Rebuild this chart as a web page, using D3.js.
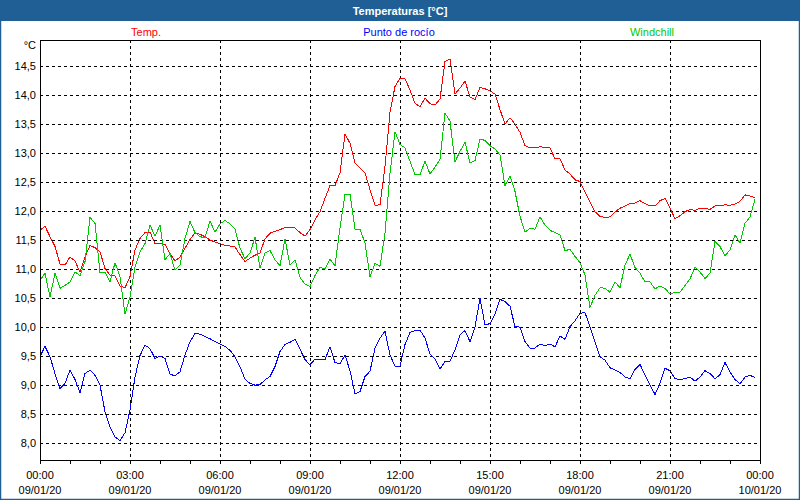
<!DOCTYPE html>
<html>
<head>
<meta charset="utf-8">
<script src="https://cdn.jsdelivr.net/npm/d3@7"></script>
<style>
    html, body { margin: 0; padding: 0; background: #fff; }
    svg { display: block; font-family: "Liberation Sans", Arial, sans-serif; }
    .grid line { stroke: #000; stroke-dasharray: 3,3; shape-rendering: crispEdges; }
    .frame { fill: none; stroke: #000; shape-rendering: crispEdges; }
    .serie { fill: none; stroke-width: 1; shape-rendering: crispEdges; }
</style>
</head>
<body>
<div id="chart"></div>
<script>
    'use strict';

    // 10 minute samples, 09/01/20 00:00 .. 23:50
    var startTime = Date.UTC(2020, 0, 9, 0, 0);
    var endTime = Date.UTC(2020, 0, 10, 0, 0);
    var stepMinutes = 10;

    var temp = [
        11.67, 11.74, 11.56, 11.39, 11.09, 11.07, 11.21, 11.14, 10.95, 11.21, 11.41, 11.37,
        11.30, 11.01, 10.90, 10.88, 10.71, 10.68, 10.87, 11.33, 11.53, 11.63, 11.64, 11.44,
        11.44, 11.43, 11.27, 11.14, 11.21, 11.36, 11.51, 11.63, 11.60, 11.56, 11.50, 11.47,
        11.44, 11.41, 11.40, 11.38, 11.25, 11.13, 11.19, 11.24, 11.28, 11.52, 11.62, 11.65,
        11.68, 11.72, 11.72, 11.71, 11.63, 11.57, 11.68, 11.85, 11.99, 12.22, 12.44, 12.44,
        12.66, 13.33, 13.17, 12.83, 12.74, 12.66, 12.37, 12.10, 12.11, 12.77, 13.70, 14.15,
        14.29, 14.28, 14.09, 13.86, 13.80, 13.95, 13.85, 13.83, 13.93, 14.58, 14.62, 14.02,
        14.12, 14.24, 13.97, 13.92, 14.13, 14.11, 14.07, 14.02, 13.75, 13.50, 13.61, 13.50,
        13.36, 13.13, 13.09, 13.09, 13.11, 13.10, 13.09, 12.90, 12.90, 12.71, 12.64, 12.54,
        12.51, 12.33, 12.16, 11.99, 11.91, 11.89, 11.90, 11.99, 12.05, 12.09, 12.13, 12.14,
        12.18, 12.13, 12.09, 12.09, 12.18, 12.22, 12.05, 11.87, 11.92, 11.99, 12.03, 12.01,
        12.05, 12.05, 12.03, 12.09, 12.09, 12.11, 12.10, 12.12, 12.17, 12.28, 12.26, 12.23
    ];

    var dewPoint = [
        9.49, 9.67, 9.49, 9.20, 8.94, 9.03, 9.26, 9.10, 8.87, 9.20, 9.26, 9.17,
        9.00, 8.54, 8.28, 8.11, 8.04, 8.18, 8.57, 9.14, 9.51, 9.69, 9.63, 9.46,
        9.50, 9.46, 9.19, 9.16, 9.23, 9.52, 9.75, 9.89, 9.88, 9.84, 9.80, 9.75,
        9.71, 9.67, 9.60, 9.49, 9.32, 9.10, 9.03, 9.00, 9.01, 9.09, 9.15, 9.32,
        9.58, 9.70, 9.74, 9.79, 9.62, 9.44, 9.35, 9.45, 9.45, 9.44, 9.66, 9.39,
        9.37, 9.52, 9.25, 8.85, 8.89, 9.15, 9.24, 9.64, 9.81, 9.93, 9.52, 9.33,
        9.33, 9.70, 9.91, 9.94, 9.95, 9.81, 9.54, 9.45, 9.28, 9.41, 9.41, 9.61,
        9.87, 9.94, 9.75, 10.00, 10.50, 10.04, 10.06, 10.23, 10.48, 10.44, 10.36, 10.01,
        10.00, 9.75, 9.64, 9.64, 9.71, 9.68, 9.71, 9.66, 9.85, 9.79, 10.01, 10.11,
        10.24, 10.25, 10.01, 9.74, 9.49, 9.43, 9.30, 9.26, 9.22, 9.14, 9.11, 9.27,
        9.36, 9.17, 9.00, 8.84, 9.03, 9.29, 9.25, 9.11, 9.10, 9.11, 9.14, 9.07,
        9.14, 9.25, 9.20, 9.11, 9.18, 9.39, 9.23, 9.10, 9.02, 9.14, 9.17, 9.13
    ];

    var windchill = [
        10.81, 10.93, 10.52, 10.93, 10.67, 10.72, 10.78, 10.95, 10.89, 11.13, 11.89, 11.79,
        10.94, 10.95, 10.78, 11.11, 10.87, 10.22, 10.52, 11.04, 11.30, 11.44, 11.76, 11.57,
        11.76, 11.16, 11.27, 10.98, 11.07, 11.53, 11.82, 11.63, 11.56, 11.54, 11.83, 11.64,
        11.78, 11.84, 11.78, 11.69, 11.36, 11.18, 11.28, 11.55, 11.02, 11.28, 11.32, 11.16,
        11.06, 11.52, 11.07, 11.16, 10.86, 10.74, 10.70, 10.89, 11.03, 11.00, 11.17, 11.06,
        11.71, 12.29, 12.29, 11.69, 11.69, 11.45, 10.87, 11.10, 11.05, 11.62, 12.65, 13.37,
        13.15, 13.09, 12.86, 12.63, 12.63, 12.86, 12.64, 12.76, 12.89, 13.69, 13.55, 12.85,
        13.03, 13.19, 12.83, 12.87, 13.24, 13.22, 13.13, 13.07, 12.97, 12.44, 12.61, 12.34,
        11.91, 11.64, 11.70, 11.69, 11.90, 11.76, 11.67, 11.63, 11.59, 11.32, 11.34, 11.22,
        11.11, 10.90, 10.34, 10.55, 10.68, 10.67, 10.60, 10.78, 10.68, 11.07, 11.26, 11.03,
        10.93, 10.78, 10.78, 10.66, 10.71, 10.67, 10.57, 10.60, 10.60, 10.72, 10.83, 11.04,
        10.95, 10.84, 10.93, 11.48, 11.39, 11.23, 11.33, 11.59, 11.45, 11.79, 11.90, 12.20
    ];

    var seriesNames = ['Temp.', 'Punto de rocío', 'Windchill'];
    var seriesColors = ['#ff0000', '#0000ff', '#00c800'];
    var yTicks = [8.0, 8.5, 9.0, 9.5, 10.0, 10.5, 11.0, 11.5, 12.0, 12.5, 13.0, 13.5, 14.0, 14.5];
    var yDomain = [7.71, 14.95];

    var stage = { width: 800, height: 500, left: 40, right: 760, top: 40, bottom: 460 };
    var legendX = [146, 399, 652];

    var times = temp.map(function(d, i) {
        return new Date(startTime + i * stepMinutes * 60000);
    });

    var x = d3.scaleUtc()
        .domain([new Date(startTime), new Date(endTime)])
        .range([stage.left, stage.right]);

    var y = d3.scaleLinear()
        .domain(yDomain)
        .range([stage.bottom, stage.top]);

    var svg = d3.select('#chart')
        .append('svg')
        .attr('width', stage.width)
        .attr('height', stage.height)
        .attr('xmlns', 'http://www.w3.org/2000/svg');

    // outer frame + title bar
    svg.append('rect')
        .attr('x', 0.5).attr('y', 0.5)
        .attr('width', stage.width - 1).attr('height', stage.height - 1)
        .attr('fill', '#fff')
        .attr('stroke', '#1f5f96')
        .attr('stroke-width', 1.5);

    svg.append('rect')
        .attr('x', 0).attr('y', 0)
        .attr('width', stage.width).attr('height', 21)
        .attr('fill', '#1f5f96');

    svg.append('text')
        .attr('x', stage.width / 2)
        .attr('y', 15)
        .attr('text-anchor', 'middle')
        .attr('fill', '#fff')
        .attr('font-size', 11)
        .attr('font-weight', 'bold')
        .text('Temperaturas [°C]');

    // legend
    svg.append('g')
        .selectAll('text').data(seriesNames).enter()
        .append('text')
        .attr('x', function(d, i) { return legendX[i]; })
        .attr('y', 36)
        .attr('text-anchor', 'middle')
        .attr('font-size', 11)
        .attr('fill', function(d, i) { return seriesColors[i]; })
        .text(function(d) { return d; });

    // grid
    var grid = svg.append('g').attr('class', 'grid');

    grid.selectAll('line.h').data(yTicks).enter()
        .append('line')
        .attr('class', 'h')
        .attr('x1', stage.left).attr('x2', stage.right)
        .attr('y1', function(d) { return Math.round(y(d)) + 0.5; })
        .attr('y2', function(d) { return Math.round(y(d)) + 0.5; });

    var majorTimes = x.ticks(d3.utcHour.every(3));

    grid.selectAll('line.v').data(majorTimes.slice(1, -1)).enter()
        .append('line')
        .attr('class', 'v')
        .attr('y1', stage.top).attr('y2', stage.bottom)
        .attr('x1', function(d) { return Math.round(x(d)) + 0.5; })
        .attr('x2', function(d) { return Math.round(x(d)) + 0.5; });

    // y labels
    var commaFormat = d3.format('.1f');
    var yAxis = svg.append('g')
        .attr('transform', 'translate(' + stage.left + ',0)')
        .call(d3.axisLeft(y).tickValues(yTicks).tickSize(0).tickPadding(4)
            .tickFormat(function(d) { return commaFormat(d).replace('.', ','); }));
    yAxis.select('.domain').remove();
    yAxis.selectAll('text')
        .attr('font-family', '"Liberation Sans", Arial, sans-serif')
        .attr('font-size', 11)
        .attr('fill', '#000');

    svg.append('text')
        .attr('x', 36)
        .attr('y', 49)
        .attr('text-anchor', 'end')
        .attr('font-size', 11)
        .text('°C');

    // x axis ticks
    var xAxis = svg.append('g')
        .attr('transform', 'translate(0,' + stage.bottom + ')')
        .call(d3.axisBottom(x).ticks(d3.utcHour.every(1)).tickSize(4).tickFormat(''));
    xAxis.select('.domain').remove();
    xAxis.selectAll('line').attr('stroke', '#000').attr('shape-rendering', 'crispEdges');

    var hourFormat = d3.utcFormat('%H:%M');
    var dateFormat = d3.utcFormat('%d/%m/%y');

    var xLabels = svg.append('g')
        .selectAll('text').data(majorTimes).enter()
        .append('text')
        .attr('text-anchor', 'middle')
        .attr('font-size', 11)
        .attr('fill', '#000');
    xLabels.append('tspan')
        .attr('x', function(d) { return x(d); })
        .attr('y', 479)
        .text(function(d) { return hourFormat(d); });
    xLabels.append('tspan')
        .attr('x', function(d) { return x(d); })
        .attr('y', 494)
        .text(function(d) { return dateFormat(d); });

    // series
    var line = d3.line()
        .x(function(d) { return x(d[0]); })
        .y(function(d) { return y(d[1]); });

    var seriesData = [temp, dewPoint, windchill];
    svg.append('g')
        .selectAll('path').data(seriesData).enter()
        .append('path')
        .attr('class', 'serie')
        .attr('stroke', function(d, i) { return seriesColors[i]; })
        .attr('d', function(d) {
            return line(d.map(function(v, i) { return [times[i], v]; }));
        });

    // plot frame
    svg.append('rect')
        .attr('class', 'frame')
        .attr('x', stage.left + 0.5)
        .attr('y', stage.top + 0.5)
        .attr('width', stage.right - stage.left)
        .attr('height', stage.bottom - stage.top);
</script>
</body>
</html>
